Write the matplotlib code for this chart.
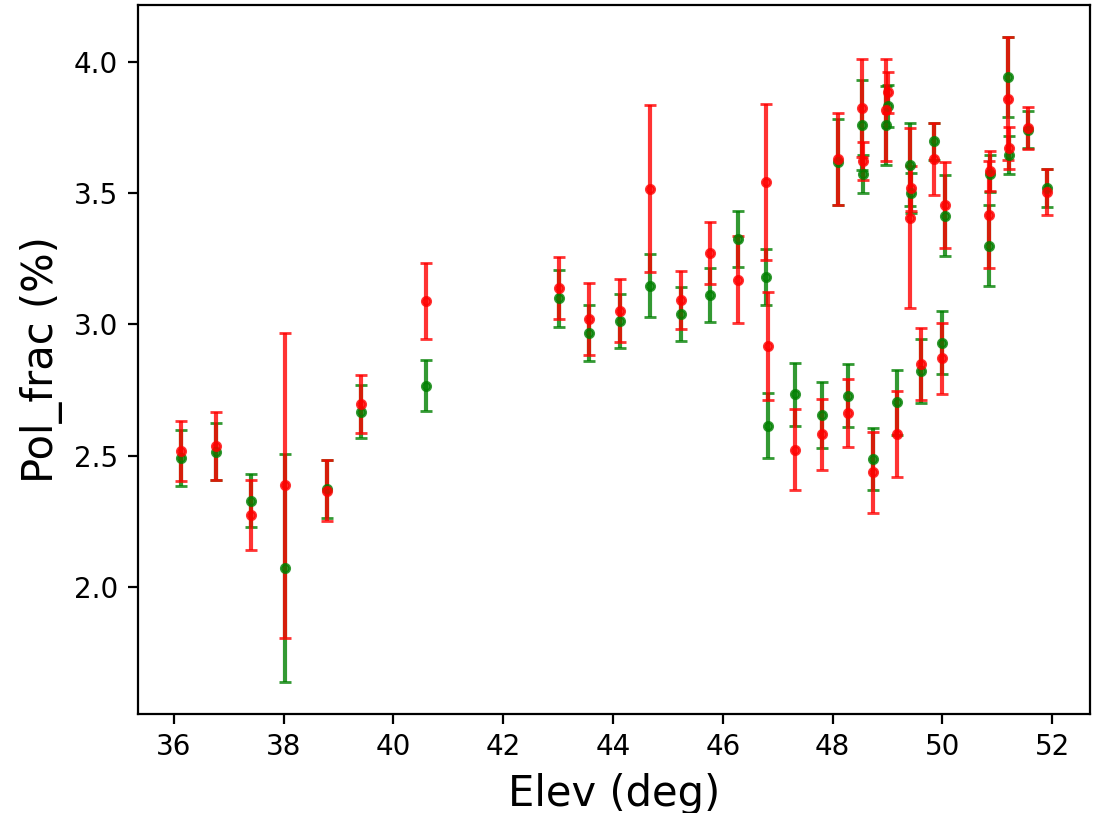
import numpy as np
from matplotlib import pyplot as plt

# elevation of each scan (deg)
elev = [36.13, 36.77, 37.40, 38.03, 38.78, 39.40, 40.60,
        43.02, 43.57, 44.13, 44.67, 45.23, 45.76, 46.27, 46.78,
        46.83, 47.32, 47.80, 48.28, 48.73, 49.17, 49.61, 50.00,
        48.09, 48.54, 48.56, 48.97, 49.01, 49.41, 49.42, 49.85, 50.04,
        50.85, 50.86, 51.20, 51.22, 51.56, 51.90]

pol_green = [2.490, 2.516, 2.329, 2.072, 2.373, 2.668, 2.767,
             3.100, 2.969, 3.012, 3.148, 3.039, 3.112, 3.325, 3.181,
             2.615, 2.735, 2.655, 2.729, 2.488, 2.703, 2.823, 2.930,
             3.618, 3.759, 3.572, 3.759, 3.831, 3.609, 3.501, 3.697, 3.415,
             3.300, 3.575, 3.942, 3.646, 3.742, 3.520]
err_green = [0.107, 0.107, 0.100, 0.433, 0.110, 0.100, 0.097,
             0.108, 0.107, 0.103, 0.120, 0.102, 0.103, 0.108, 0.108,
             0.124, 0.120, 0.127, 0.120, 0.117, 0.124, 0.123, 0.120,
             0.163, 0.172, 0.073, 0.150, 0.080, 0.159, 0.076, 0.070, 0.156,
             0.154, 0.070, 0.152, 0.072, 0.070, 0.072]

pol_red = [2.519, 2.538, 2.274, 2.387, 2.367, 2.698, 3.090,
           3.138, 3.021, 3.053, 3.517, 3.093, 3.272, 3.171, 3.543,
           2.918, 2.523, 2.582, 2.663, 2.437, 2.583, 2.850, 2.871,
           3.630, 3.825, 3.622, 3.817, 3.884, 3.405, 3.519, 3.630, 3.456,
           3.418, 3.585, 3.860, 3.672, 3.748, 3.504]
err_red = [0.114, 0.130, 0.133, 0.580, 0.117, 0.110, 0.145,
           0.118, 0.137, 0.120, 0.318, 0.110, 0.118, 0.167, 0.297,
           0.207, 0.155, 0.135, 0.128, 0.154, 0.165, 0.138, 0.136,
           0.176, 0.186, 0.073, 0.194, 0.079, 0.342, 0.085, 0.136, 0.163,
           0.204, 0.075, 0.234, 0.079, 0.080, 0.088]


def main():
    fig = plt.figure(figsize=(5.51, 4.065), dpi=200)
    ax = fig.add_axes([0.125, 0.1218, 0.8641, 0.872])

    ax.errorbar(elev, pol_green, yerr=err_green, fmt='o', color='green',
                ms=3, capsize=2, alpha=0.8)
    ax.errorbar(elev, pol_red, yerr=err_red, fmt='o', color='red',
                ms=3, capsize=2, alpha=0.8)

    ax.set_xlabel('Elev (deg)', fontsize=15)
    ax.set_ylabel('Pol_frac (%)', fontsize=15)

    fig.savefig('out.png', dpi=200)


if __name__ == '__main__':
    main()
